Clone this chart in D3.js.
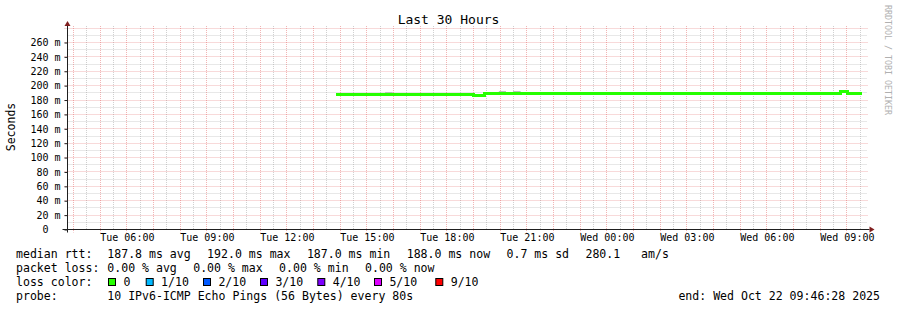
<!DOCTYPE html>
<html>
<head>
<meta charset="utf-8">
<script src="https://cdn.jsdelivr.net/npm/d3@7"></script>
<style>
  html, body { margin: 0; padding: 0; background: #fff; }
  svg { display: block; font-family: "DejaVu Sans Mono", monospace; }
  text { white-space: pre; }
</style>
</head>
<body>
<div id="chart"></div>
<script>
// graph window (times as printed on the graph)
const startTime = "2025-10-21T03:46:28";
const endTime = "2025-10-22T09:46:28";

// median rtt, one value per step, in ms
const stepTimes = [
  "2025-10-21T13:50:00", "2025-10-21T19:01:00", "2025-10-21T19:25:00", "2025-10-21T19:41:00",
  "2025-10-22T07:41:00", "2025-10-22T08:13:00", "2025-10-22T08:46:00", "2025-10-22T09:02:00",
  "2025-10-22T09:35:00"
];
const medianMs = [187.7, 186.9, 188.4, 189.1, 188.4, 189.1, 191.9, 189.1];

// smoke: the few spots where single pings went above the median
const smokeFrom = ["2025-10-21T15:41:00", "2025-10-21T19:57:00", "2025-10-21T20:29:00", "2025-10-22T07:41:00"];
const smokeTo   = ["2025-10-21T15:58:00", "2025-10-21T20:13:00", "2025-10-21T20:46:00", "2025-10-22T08:13:00"];
const smokeTop  = [191.2, 192.6, 192.6, 191.2];

const yTicks = d3.range(0, 261, 20);

const rttStats = ["187.8 ms avg", "192.0 ms max", "187.0 ms min", "188.0 ms now", "0.7 ms sd", "280.1   am/s"];
const lossStats = ["0.00 % avg", "0.00 % max", "0.00 % min", "0.00 % now"];
const lossLabels = ["0", "1/10", "2/10", "3/10", "4/10", "5/10", "9/10"];
const lossColors = ["#26ff00", "#00b8ff", "#0059ff", "#5e00ff", "#7e00ff", "#dd00ff", "#ff0000"];
const probeText = "10 IPv6-ICMP Echo Pings (56 Bytes) every 80s";
const endText = "end: Wed Oct 22 09:46:28 2025";

const W = 897, H = 310;
const plotLeft = 67.5, plotRight = 867.5, plotBottom = 229.5, plotTop = 26;
const charW = 6.95, gap = 16.4;

const parse = d3.utcParse("%Y-%m-%dT%H:%M:%S");

const x = d3.scaleUtc()
  .domain([parse(startTime), parse(endTime)])
  .range([plotLeft, plotRight]);

const y = d3.scaleLinear()
  .domain([0, 260])
  .range([plotBottom, plotBottom - 187]);
const yMax = y.invert(plotTop);

const svg = d3.select("#chart").append("svg")
  .attr("width", W)
  .attr("height", H);

svg.append("rect").attr("width", W).attr("height", H).attr("fill", "#fff");

const crisp = v => Math.round(v - 0.5) + 0.5;

// grid
const grid = svg.append("g").attr("stroke-dasharray", "1,1").attr("stroke-width", 1);

const minorY = d3.range(10, yMax, 10).filter(v => v % 20 !== 0);
const majorY = d3.range(20, yMax, 20);
const minorX = d3.utcMinute.every(30).range(x.domain()[0], x.domain()[1]).filter(d => d.getUTCMinutes() === 30);
const majorX = d3.utcHour.every(1).range(x.domain()[0], x.domain()[1]);

grid.selectAll(".gy").data(minorY).join("line")
  .attr("x1", plotLeft).attr("x2", plotRight)
  .attr("y1", d => crisp(y(d))).attr("y2", d => crisp(y(d)))
  .attr("stroke", "rgba(143,143,143,0.42)");

grid.selectAll(".gx").data(minorX).join("line")
  .attr("x1", d => crisp(x(d))).attr("x2", d => crisp(x(d)))
  .attr("y1", plotTop).attr("y2", plotBottom)
  .attr("stroke", "rgba(143,143,143,0.42)");

grid.selectAll(".my").data(majorY).join("line")
  .attr("x1", plotLeft - 3).attr("x2", plotRight)
  .attr("y1", d => crisp(y(d))).attr("y2", d => crisp(y(d)))
  .attr("stroke", "rgba(222,79,79,0.42)");

grid.selectAll(".mx").data(majorX).join("line")
  .attr("x1", d => crisp(x(d))).attr("x2", d => crisp(x(d)))
  .attr("y1", plotTop).attr("y2", plotBottom + 3)
  .attr("stroke", "rgba(222,79,79,0.42)");

// smoke
svg.append("g").selectAll("rect").data(smokeTop).join("rect")
  .attr("x", (d, i) => x(parse(smokeFrom[i])))
  .attr("width", (d, i) => x(parse(smokeTo[i])) - x(parse(smokeFrom[i])))
  .attr("y", d => y(d))
  .attr("height", d => y(188) - y(d))
  .attr("fill", "#bdbdbd");

// median line
const points = stepTimes.map((t, i) => [parse(t), medianMs[Math.min(i, medianMs.length - 1)]]);
svg.append("path")
  .datum(points)
  .attr("fill", "none")
  .attr("stroke", lossColors[0])
  .attr("stroke-width", 3)
  .attr("shape-rendering", "crispEdges")
  .attr("d", d3.line().x(d => x(d[0])).y(d => y(d[1])).curve(d3.curveStepAfter));

// axes
const yAxis = svg.append("g")
  .attr("transform", `translate(${plotLeft},0)`)
  .call(d3.axisLeft(y).tickValues(yTicks).tickSize(3).tickPadding(4)
    .tickFormat(v => v === 0 ? "0  " : v + " m"));
yAxis.select(".domain").remove();
yAxis.selectAll("line").attr("stroke", "#1f1f1f");
yAxis.selectAll("text").attr("font-size", 10).attr("fill", "#000")
  .attr("font-family", "DejaVu Sans Mono, monospace");

const xAxis = svg.append("g")
  .attr("transform", `translate(0,${plotBottom})`)
  .call(d3.axisBottom(x).ticks(d3.utcHour.every(3)).tickSize(0).tickPadding(4.5)
    .tickFormat(d3.utcFormat("%a %H:%M")));
xAxis.select(".domain").remove();
xAxis.selectAll("text").attr("font-size", 10).attr("fill", "#000")
  .attr("font-family", "DejaVu Sans Mono, monospace");

svg.append("line")
  .attr("x1", plotLeft).attr("x2", plotLeft).attr("y1", plotTop - 1).attr("y2", plotBottom + 3)
  .attr("stroke", "#1f1f1f");
svg.append("line")
  .attr("x1", plotLeft - 5).attr("x2", plotRight + 2).attr("y1", plotBottom).attr("y2", plotBottom)
  .attr("stroke", "#1f1f1f");
svg.append("path")
  .attr("d", `M${plotLeft},${plotTop - 5}L${plotLeft - 3},${plotTop}L${plotLeft + 3},${plotTop}Z`)
  .attr("fill", "#801f1f");
svg.append("path")
  .attr("d", `M${plotRight + 7},${plotBottom}L${plotRight + 2},${plotBottom - 3}L${plotRight + 2},${plotBottom + 3}Z`)
  .attr("fill", "#801f1f");

// title, vertical label, watermark
svg.append("text")
  .attr("x", W / 2).attr("y", 23.5)
  .attr("text-anchor", "middle").attr("font-size", 13)
  .text("Last 30 Hours");

svg.append("text")
  .attr("transform", `translate(15,127) rotate(-90)`)
  .attr("text-anchor", "middle").attr("font-size", 11.5)
  .text("Seconds");

svg.append("text")
  .attr("transform", `translate(884.5,5) rotate(90)`)
  .attr("font-size", 8.3).attr("fill", "#b0b0b0")
  .text("RRDTOOL / TOBI OETIKER");

// legend
const rows = [258, 272, 286, 300];
const legend = svg.append("g").attr("font-size", 11.55).attr("fill", "#000");
const valueX = 107.3;

function placeRow(items, baseline) {
  let cx = valueX;
  items.forEach(s => {
    legend.append("text").attr("x", cx).attr("y", baseline).text(s);
    cx += s.length * charW + gap;
  });
}

legend.append("text").attr("x", 16).attr("y", rows[0]).text("median rtt:");
placeRow(rttStats, rows[0]);
legend.append("text").attr("x", 16).attr("y", rows[1]).text("packet loss:");
placeRow(lossStats, rows[1]);
legend.append("text").attr("x", 16).attr("y", rows[2]).text("loss color:");

const swatchX = [108, 145.7, 203, 260, 317.3, 374, 435.3];
lossLabels.forEach((lab, i) => {
  legend.append("rect")
    .attr("x", swatchX[i] + 0.5).attr("y", rows[2] - 8 + 0.5)
    .attr("width", 7).attr("height", 7)
    .attr("fill", lossColors[i]).attr("stroke", "#000").attr("stroke-width", 1);
  legend.append("text").attr("x", swatchX[i] + 15.4).attr("y", rows[2]).text(lab);
});

legend.append("text").attr("x", 16).attr("y", rows[3]).text("probe:");
legend.append("text").attr("x", valueX).attr("y", rows[3]).text(probeText);
legend.append("text").attr("x", 880).attr("y", rows[3]).attr("text-anchor", "end").text(endText);
</script>
</body>
</html>
